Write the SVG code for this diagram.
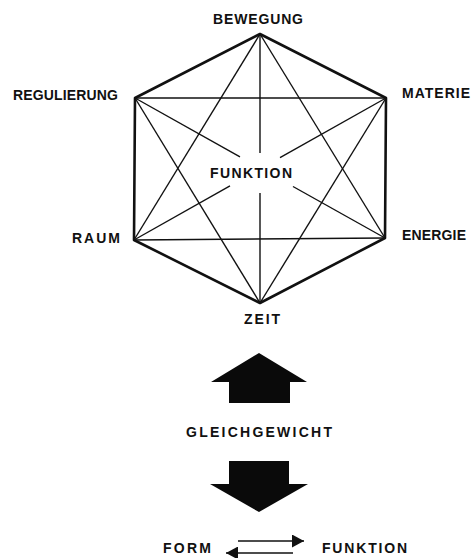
<svg xmlns="http://www.w3.org/2000/svg" width="471" height="558" viewBox="0 0 471 558">
<style>
text{font-family:"Liberation Sans",Arial,sans-serif;font-weight:bold;font-size:14px;fill:#111}
.edge{stroke:#111;stroke-width:2.6;fill:none;stroke-linejoin:round}
.diag{stroke:#111;stroke-width:1.4;fill:none}
.arr{stroke:#111;stroke-width:1.6;fill:none}
.block{fill:#0a0a0a}
</style>
<defs>
<marker id="ah" markerWidth="12" markerHeight="13" refX="12" refY="6.5" orient="auto" markerUnits="userSpaceOnUse" viewBox="0 0 12 13">
<path d="M0,0 L12,6.5 L0,13 Z" fill="#111"/>
</marker>
</defs>
<rect width="471" height="558" fill="#fff"/>
<g id="connectors">
<polygon class="edge" points="260,34 386,98 385,238 260,303 134,240 135,98"/>
<line class="diag" x1="135" y1="98" x2="386" y2="98"/>
<line class="diag" x1="134" y1="240" x2="385" y2="238"/>
<line class="diag" x1="260" y1="34" x2="134" y2="240"/>
<line class="diag" x1="260" y1="34" x2="385" y2="238"/>
<line class="diag" x1="135" y1="98" x2="260" y2="303"/>
<line class="diag" x1="386" y1="98" x2="260" y2="303"/>
<line class="diag" x1="260" y1="34" x2="260" y2="153"/>
<line class="diag" x1="260" y1="193" x2="260" y2="303"/>
<line class="diag" x1="135" y1="98" x2="240" y2="156.8"/>
<line class="diag" x1="293" y1="186.5" x2="385" y2="238"/>
<line class="diag" x1="386" y1="98" x2="280" y2="157.7"/>
<line class="diag" x1="230" y1="185.9" x2="134" y2="240"/>
<line class="arr" x1="238" y1="541" x2="304" y2="541" marker-end="url(#ah)"/>
<line class="arr" x1="293" y1="553" x2="226" y2="553" marker-end="url(#ah)"/>
</g>
<g id="bewegung"><text x="213" y="24" textLength="90" lengthAdjust="spacing">BEWEGUNG</text></g>
<g id="regulierung"><text x="13" y="100" textLength="105" lengthAdjust="spacing">REGULIERUNG</text></g>
<g id="materie"><text x="402" y="98" textLength="68" lengthAdjust="spacing">MATERIE</text></g>
<g id="energie"><text x="402" y="240" textLength="64" lengthAdjust="spacing">ENERGIE</text></g>
<g id="raum"><text x="72" y="243" textLength="48" lengthAdjust="spacing">RAUM</text></g>
<g id="funktion-center"><text x="210" y="178" textLength="82" lengthAdjust="spacing">FUNKTION</text></g>
<g id="zeit"><text x="244" y="324" textLength="36" lengthAdjust="spacing">ZEIT</text></g>
<g id="arrow-up"><polygon class="block" points="259,353 307,382 290,382 290,403 229,403 229,382 211,382"/></g>
<g id="gleichgewicht"><text x="186" y="437" textLength="146" lengthAdjust="spacing">GLEICHGEWICHT</text></g>
<g id="arrow-down"><polygon class="block" points="229,461 289,461 289,484 308,484 259,512 210,484 229,484"/></g>
<g id="form"><text x="163" y="553" textLength="48" lengthAdjust="spacing">FORM</text></g>
<g id="funktion-bottom"><text x="322" y="553" textLength="85" lengthAdjust="spacing">FUNKTION</text></g>
</svg>
